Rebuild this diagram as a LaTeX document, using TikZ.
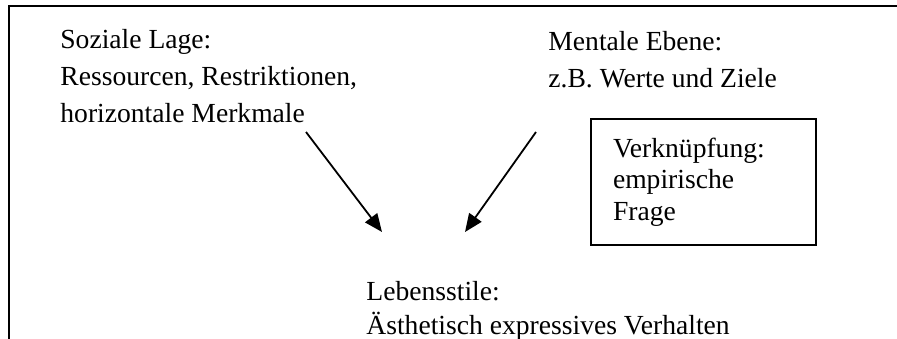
\documentclass[tikz,border=0pt]{standalone}
\usepackage{fontspec}
\setmainfont{Liberation Serif}
\usepackage{tikz}
\usetikzlibrary{positioning}
\usetikzlibrary{arrows.meta}
\tikzset{>={Triangle[length=9pt,width=7.5pt]}}
\tikzset{
  txt/.style={anchor=base west, inner sep=0pt, align=left,
    font=\fontsize{13.8}{18.5}\selectfont},
  framebox/.style={draw, line width=0.9pt, minimum width=112.5pt,
    minimum height=63pt, text width=90.5pt, inner xsep=11pt,
    align=left, font=\fontsize{13.8}{15.75}\selectfont},
  pfeil/.style={->, line width=0.9pt}
}

\begin{document}
\begin{tikzpicture}[x=0.5pt, y=-0.5pt]

\useasboundingbox (0,0) rectangle (897,338);
\clip (0,0) rectangle (897,338);

% Outer frame (only top and left edge)
\draw[line width=1pt] (897,6) -- (9,6) -- (9,345);

% ---------- Texts ----------
% (base west = baseline of the last line)
\node[txt] (lage) at (60,122)
  {Soziale Lage:\\Ressourcen, Restriktionen,\\horizontale Merkmale};
\node[txt] (mental) at (548,87)
  {Mentale Ebene:\\z.B. Werte und Ziele};

% Box
\node[framebox] (frage) at (703.5,182) {Verknüpfung:\\empirische\\Frage};

% Bottom
\node[txt, font=\fontsize{13.8}{17}\selectfont] (stil) at (366,334)
  {Lebensstile:\\Ästhetisch expressives Verhalten};

% ---------- Arrows ----------
\coordinate (p1) at (306,132);
\coordinate (q1) at (382,232);
\coordinate (p2) at (536,132);
\coordinate (q2) at (465,232);

\draw[pfeil] (p1) -- (q1);
\draw[pfeil] (p2) -- (q2);

\end{tikzpicture}
\end{document}
